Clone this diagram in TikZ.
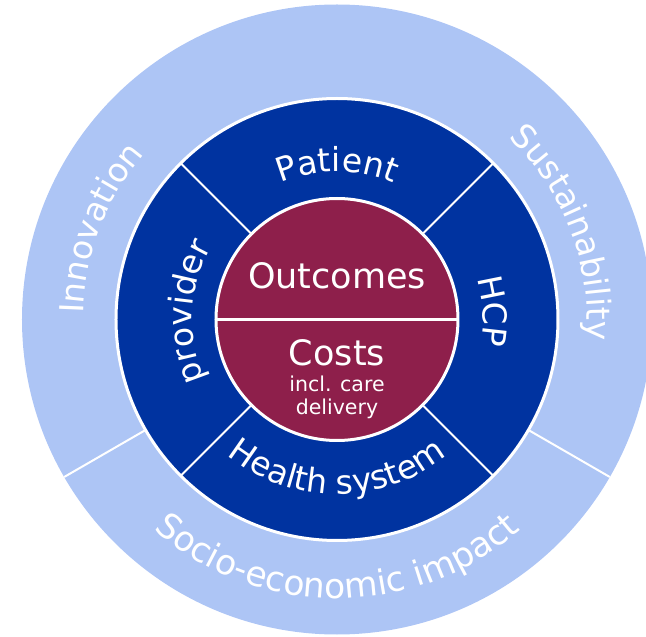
\documentclass[tikz,border=0pt]{standalone}
\usepackage{fontspec}
\setmainfont{DejaVu Sans}
\usetikzlibrary{decorations.text}

\definecolor{ringlight}{RGB}{173,197,245}
\definecolor{ringnavy}{RGB}{0,51,160}
\definecolor{coremaroon}{RGB}{142,31,75}

\newcommand\labelfont{\fontsize{33}{37}\selectfont}
\newcommand\widelabelfont{\fontsize{34.5}{38}\selectfont}

\tikzset{
  disc/.style={circle, inner sep=0pt, outer sep=0pt},
  divider/.style={draw=white, line width=2pt},
  arclabel/.style={decorate, decoration={text along path, text align=center,
      text color=white, text={|\labelfont|#1}}},
  widearclabel/.style={decorate, decoration={text along path, text align=center,
      text color=white, text={|\widelabelfont|#1}}},
  corelabel/.style={text=white, inner sep=0pt, align=center}
}

\begin{document}
\begin{tikzpicture}[x=1pt,y=1pt]
  \useasboundingbox (-337,-317.5) rectangle (309,319.5);
  \clip (-337,-317.5) rectangle (309,319.5);

  % outer ring: wider context
  \node (world) [disc, fill=ringlight, minimum size=630pt] at (0,0) {};
  % middle ring: stakeholders
  \node (ring) [disc, fill=ringnavy, draw=white, line width=3pt, minimum size=442pt] at (0,0) {};
  \draw[divider] (ring.210) -- (world.210);
  \draw[divider] (ring.330) -- (world.330);

  % core: outcomes and costs
  \node (core) [disc, fill=coremaroon, draw=white, line width=3pt, minimum size=242pt] at (0,0) {};
  \draw[white, line width=2.5pt] (core.west) -- (core.east);
  \foreach \a in {45,135,225,315}
    \draw[divider] (core.\a) -- (ring.\a);

  \node (outcomes) [corelabel, font=\fontsize{35}{40}\selectfont] at (0,44) {Outcomes};
  \node (costs) [corelabel, font=\fontsize{35}{40}\selectfont] at (0,-33) {Costs};
  \node (care) [corelabel, font=\fontsize{20.5}{23}\selectfont] at (0,-78) {incl. care\\delivery};

  % stakeholder labels along the middle ring
  \path[arclabel={Patient}] (130:148) arc[start angle=130, end angle=50, radius=148];
  \path[arclabel={HCP}] (43:146) arc[start angle=43, end angle=-37, radius=146];
  \path[arclabel={provider}] (217:145) arc[start angle=217, end angle=137, radius=145];
  \path[arclabel={Health system}] (200:175) arc[start angle=200, end angle=340, radius=175];

  % context labels along the outer ring
  \path[arclabel={Innovation}] (219:254) arc[start angle=219, end angle=99, radius=254];
  \path[arclabel={Sustainability}] (81:250) arc[start angle=81, end angle=-39, radius=250];
  \path[widearclabel={Socio-economic impact}] (200:279) arc[start angle=200, end angle=340, radius=279];
\end{tikzpicture}
\end{document}
